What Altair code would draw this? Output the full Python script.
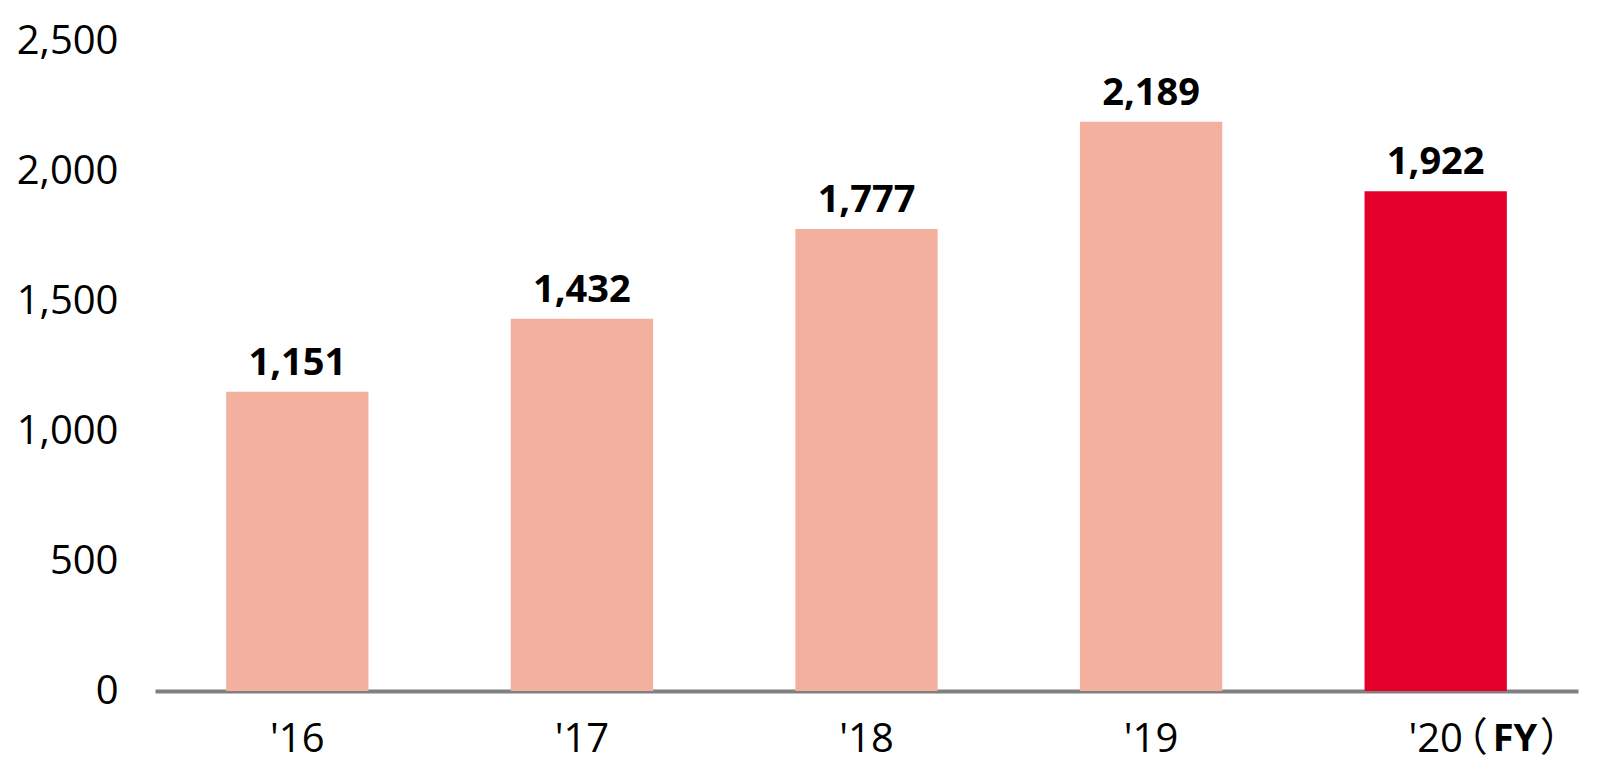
import altair as alt
import pandas as pd

years = ["'16", "'17", "'18", "'19", "'20"]
values = [1151, 1432, 1777, 2189, 1922]
groups = ["past", "past", "past", "past", "current"]
y_ticks = [0, 500, 1000, 1500, 2000, 2500]
fy_open, fy_text, fy_close = "（", "FY", "）"

df = pd.DataFrame({"year": years, "value": values, "group": groups})
fy_df = pd.DataFrame({"year": [years[-1]], "value": [0]})

FONT = "Open Sans"

x = alt.X(
    "year:N",
    sort=years,
    scale=alt.Scale(paddingInner=0.5, paddingOuter=0.25),
    axis=alt.Axis(
        title=None, labelAngle=0, ticks=False, domainColor="#808080",
        domainWidth=4, labelFont=FONT, labelFontSize=40, labelColor="#000000",
        labelPadding=60, labelBaseline="alphabetic", grid=False,
    ),
)
y = alt.Y(
    "value:Q",
    scale=alt.Scale(domain=[0, 2500], nice=False),
    axis=alt.Axis(
        title=None, values=y_ticks, format=",.0f", domain=False, ticks=False,
        grid=False, labelPadding=37, labelFont=FONT, labelFontSize=40,
        labelColor="#000000",
    ),
)

base = alt.Chart(df)

bars = base.mark_bar().encode(
    x=x,
    y=y,
    color=alt.Color(
        "group:N",
        scale=alt.Scale(domain=["past", "current"], range=["#F4B09E", "#E4002B"]),
        legend=None,
    ),
)

labels = base.mark_text(
    dy=-17, baseline="alphabetic", fontWeight="bold", fontSize=38, font=FONT,
    color="#000000",
).encode(x=x, y=y, text=alt.Text("value:Q", format=",.0f"))

fy_base = alt.Chart(fy_df)
fy1 = fy_base.mark_text(
    dx=32, dy=60, baseline="alphabetic", align="center", fontSize=40,
    font="Noto Sans CJK JP", color="#000000",
).encode(x=x, y=y, text=alt.value(fy_open))
fy2 = fy_base.mark_text(
    dx=57, dy=60, baseline="alphabetic", align="left", fontSize=38,
    fontWeight="bold", font=FONT, color="#000000",
).encode(x=x, y=y, text=alt.value(fy_text))
fy3 = fy_base.mark_text(
    dx=124, dy=60, baseline="alphabetic", align="center", fontSize=40,
    font="Noto Sans CJK JP", color="#000000",
).encode(x=x, y=y, text=alt.value(fy_close))

chart = (
    alt.layer(bars, labels, fy1, fy2, fy3)
    .properties(
        width=1423, height=650,
        autosize=alt.AutoSizeParams(type="none"),
        padding={"left": 147, "top": 33, "right": 10, "bottom": 74},
    )
    .configure_view(stroke=None)
)

chart.save("out.html", embed_options={"renderer": "svg", "actions": False})
